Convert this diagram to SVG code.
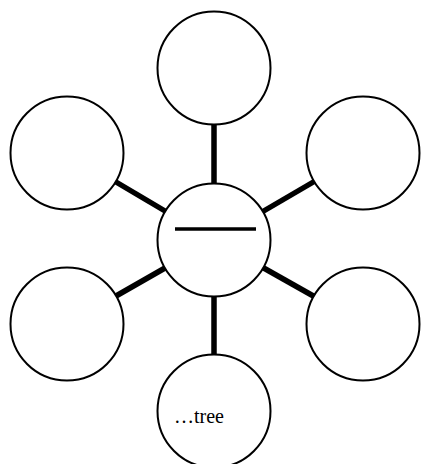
<svg xmlns="http://www.w3.org/2000/svg" width="422" height="464" viewBox="0 0 422 464">
<style>
.node circle{fill:#fff;stroke:#000;stroke-width:2}
.spoke{stroke:#000;stroke-width:5.5}
.lbl{font-family:"Liberation Serif","Times New Roman",serif;font-size:20px;fill:#000}
</style>
<rect width="422" height="464" fill="#fff"/>
<g id="connectors">
<line class="spoke" x1="214" y1="240" x2="214" y2="68"/>
<line class="spoke" x1="214" y1="240" x2="214" y2="411"/>
<line class="spoke" x1="214" y1="240" x2="67" y2="153"/>
<line class="spoke" x1="214" y1="240" x2="363" y2="153"/>
<line class="spoke" x1="214" y1="240" x2="67" y2="324"/>
<line class="spoke" x1="214" y1="240" x2="363" y2="324"/>
</g>
<g id="node-top" class="node"><circle cx="214" cy="68" r="56.5"/></g>
<g id="node-left-top" class="node"><circle cx="67" cy="153" r="56.5"/></g>
<g id="node-right-top" class="node"><circle cx="363" cy="153" r="56.5"/></g>
<g id="node-left-bottom" class="node"><circle cx="67" cy="324" r="56.5"/></g>
<g id="node-right-bottom" class="node"><circle cx="363" cy="324" r="56.5"/></g>
<g id="node-bottom" class="node"><circle cx="214" cy="411" r="56.5"/><text class="lbl" x="174" y="423">…tree</text></g>
<g id="node-center" class="node"><circle cx="214" cy="240" r="56.5"/><line x1="175" y1="229" x2="256" y2="229" stroke="#000" stroke-width="3.6"/></g>
</svg>
